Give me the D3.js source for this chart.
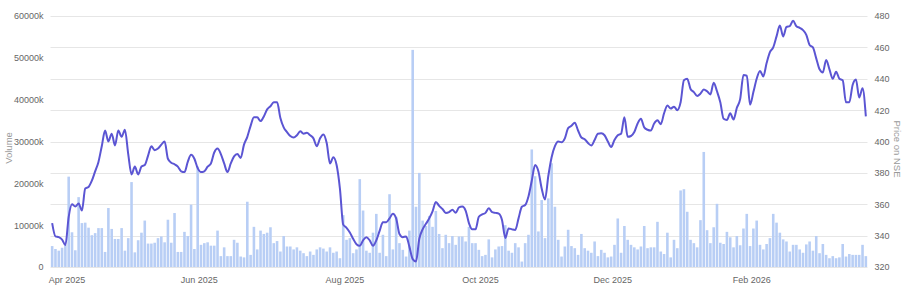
<!DOCTYPE html>
<html>
<head>
<meta charset="utf-8">
<script src="https://cdnjs.cloudflare.com/ajax/libs/d3/7.8.5/d3.min.js"></script>
<style>
body { margin: 0; background: #fff; }
text { font-family: "Liberation Sans", Arial, sans-serif; }
</style>
</head>
<body>
<div id="chart"></div>
<script>
// trading days: weekdays between these dates, minus exchange holidays
var startDate = '2025-03-24'
var endDate = '2026-03-23'
var holidays = ['2025-03-31', '2025-04-10', '2025-04-14', '2025-04-18', '2025-05-01', '2025-08-15',
	'2025-08-27', '2025-10-02', '2025-10-22', '2025-11-05', '2025-12-25', '2026-01-15', '2026-01-26', '2026-03-03']

// volume in thousands
var volume = [
	5000, 4300, 3900, 4600, 5300, 21600, 8300, 4000, 16700, 10500,
	10600, 9400, 7600, 8100, 9300, 9300, 3600, 14100, 9100, 6700,
	6700, 9300, 3900, 6900, 20300, 3500, 6400, 8200, 11100, 5600,
	5600, 5800, 6900, 7300, 5900, 11300, 5800, 12900, 3600, 3600,
	8400, 7400, 14900, 4300, 24000, 5300, 5700, 5900, 5100, 5100,
	8700, 2600, 4700, 2600, 2600, 6500, 5800, 2500, 2300, 15600,
	2900, 9600, 4200, 8700, 7900, 8200, 9500, 5700, 6200, 3700,
	7400, 4900, 4900, 4200, 4700, 3900, 3300, 2600, 3700, 2900,
	4200, 4700, 4400, 3700, 4700, 3400, 3700, 2100, 12400, 6500,
	6900, 3300, 4200, 21000, 13500, 3900, 3400, 8200, 12700, 3400,
	7700, 2600, 17400, 4200, 12000, 5700, 4100, 2500, 8700, 51900,
	14400, 22500, 11100, 9800, 12200, 9600, 13400, 7900, 4500, 7700,
	5700, 7400, 5300, 7300, 7300, 6100, 9600, 5700, 5700, 4100,
	2600, 2900, 6600, 2300, 4200, 4900, 5000, 10000, 3900, 3400,
	5700, 4700, 1300, 5700, 7700, 28100, 21700, 8500, 16000, 6900,
	16400, 24800, 14400, 6500, 2500, 4900, 8900, 5000, 4500, 2900,
	7900, 4500, 3900, 3400, 6100, 2600, 4100, 3400, 2300, 2500,
	5300, 11600, 3400, 9800, 6500, 5300, 4700, 4200, 4900, 9800,
	4500, 4700, 4700, 10800, 3700, 3100, 8200, 2300, 6500, 4500,
	18300, 18600, 13200, 6500, 5700, 4700, 11200, 27500, 8800, 5700,
	9500, 15100, 5800, 5500, 8400, 7100, 4700, 7400, 5200, 9200,
	12700, 5000, 9200, 11100, 5300, 4200, 5500, 6900, 12700, 10600,
	8200, 6600, 6100, 3700, 5300, 5300, 4200, 3400, 5400, 6100,
	3900, 7400, 3300, 5500, 2900, 2100, 2600, 2100, 2300, 5500,
	2500, 3100, 2900, 2900, 2900, 5300, 2600
]

var price = [
	348, 339.5, 339, 337.5, 334, 352, 360, 358.5, 360.5, 356,
	370, 371, 375, 381, 387, 397, 407, 400, 405, 397.5,
	407, 403, 407.5, 392, 379, 384, 379, 384, 385, 391,
	397, 394.5, 395.5, 398, 400, 389, 386.5, 385.5, 384, 381,
	380.5, 387, 391.5, 389, 383, 380.5, 381, 384, 386, 393,
	395.5, 392, 386, 380.5, 386, 390.5, 392, 389.5, 398, 403,
	410, 415.5, 415.5, 413, 416, 420.5, 422.5, 425, 425, 415,
	409, 406, 403.5, 402.5, 404, 406.5, 405, 405.5, 404, 402,
	397, 402, 404.5, 399, 386, 390, 385, 370, 347, 345,
	342, 338, 334.5, 333.5, 337, 339, 337, 333.5, 337, 343,
	348.5, 348.5, 351, 354, 351, 341, 339, 339.5, 333, 325,
	323.5, 338, 344, 347.5, 351, 355.5, 361.5, 359, 357, 354.5,
	355, 356.5, 354.6, 358, 358.5, 356, 348, 344, 344, 352,
	353.5, 354.5, 357.4, 355, 354.5, 354, 350, 338.5, 344.6, 344,
	343.6, 351, 358.4, 359.5, 365, 375, 385, 381, 370, 363,
	378, 390, 397, 400, 399.5, 402, 408.5, 410, 412, 407,
	402.5, 401.5, 399, 397.5, 401, 405, 405.2, 404, 400, 396.5,
	401, 404, 405, 415.4, 403, 403.5, 406, 411.5, 414.5, 409,
	407.5, 407, 411.5, 413.5, 411, 418, 423, 421, 422.2, 420,
	425, 439, 440, 433.5, 431.5, 429, 430.5, 433.2, 432, 430,
	437.5, 432, 425, 414.5, 413.7, 418, 414, 421.5, 427, 442.4,
	442, 423.5, 431.5, 440, 445, 441.5, 450, 457, 460, 467,
	474, 467, 473, 473.5, 477, 473.5, 472.5, 471, 468, 461.5,
	460, 453, 446, 444, 452, 446, 440, 444.5, 440, 439,
	425, 425, 436, 439.5, 428, 434, 416
]

var volumeTicks = [0, 10000, 20000, 30000, 40000, 50000, 60000]
var priceTicks = [320, 340, 360, 380, 400, 420, 440, 460, 480]
var monthTicks = ['2025-04', '2025-06', '2025-08', '2025-10', '2025-12', '2026-02']

var width = 902, height = 292
var margin = {top: 16, right: 34.5, bottom: 25, left: 50.5}

var fmt = d3.timeFormat('%Y-%m-%d')
var parse = d3.timeParse('%Y-%m-%d')
var dates = d3.timeDay.range(parse(startDate), d3.timeDay.offset(parse(endDate), 1))
	.filter(function(d) { return d.getDay() !== 0 && d.getDay() !== 6 && holidays.indexOf(fmt(d)) < 0 })
	.map(fmt)

var rows = dates.map(function(d, i) { return {date: d, volume: volume[i], price: price[i]} })

var svg = d3.select('#chart').append('svg')
	.attr('width', width).attr('height', height)

var x = d3.scaleBand().domain(dates)
	.range([margin.left, width - margin.right])
	.paddingInner(0.22).paddingOuter(0.11)
var yVol = d3.scaleLinear().domain([0, 60000]).range([height - margin.bottom, margin.top])
var yPrice = d3.scaleLinear().domain([320, 480]).range([height - margin.bottom, margin.top])

svg.append('g').selectAll('line').data(priceTicks).enter().append('line')
	.attr('x1', margin.left).attr('x2', width - margin.right)
	.attr('y1', function(d) { return Math.round(yPrice(d)) + 0.5 })
	.attr('y2', function(d) { return Math.round(yPrice(d)) + 0.5 })
	.attr('stroke', '#e6e6e6')

svg.append('g').selectAll('rect').data(rows).enter().append('rect')
	.attr('x', function(d) { return x(d.date) })
	.attr('width', x.bandwidth())
	.attr('y', function(d) { return yVol(d.volume) })
	.attr('height', function(d) { return yVol(0) - yVol(d.volume) })
	.attr('fill', '#b8cef5')

var line = d3.line()
	.x(function(d) { return x(d.date) + x.bandwidth() / 2 })
	.y(function(d) { return yPrice(d.price) })
	.curve(d3.curveMonotoneX)

svg.append('path').datum(rows)
	.attr('d', line)
	.attr('fill', 'none')
	.attr('stroke', '#5b55d3')
	.attr('stroke-width', 2)

var leftAxis = svg.append('g').attr('transform', 'translate(' + margin.left + ',0)')
	.call(d3.axisLeft(yVol).tickValues(volumeTicks).tickSize(0).tickPadding(7)
		.tickFormat(function(d) { return d === 0 ? '0' : d + 'k' }))
var rightAxis = svg.append('g').attr('transform', 'translate(' + (width - margin.right) + ',0)')
	.call(d3.axisRight(yPrice).tickValues(priceTicks).tickSize(0).tickPadding(7))

var tickDates = monthTicks.map(function(m) { return dates.find(function(d) { return d.slice(0, 7) === m }) })
var bottomAxis = svg.append('g')
	.attr('transform', 'translate(' + (-x.step() / 2) + ',' + (height - margin.bottom) + ')')
	.call(d3.axisBottom(x).tickValues(tickDates).tickSize(0).tickPadding(9.5)
		.tickFormat(function(d) { return d3.timeFormat('%b %Y')(parse(d)) }))

;[leftAxis, rightAxis, bottomAxis].forEach(function(g) {
	g.select('.domain').remove()
	g.selectAll('text').attr('fill', '#666').style('font-size', '9px')
})

svg.append('text').text('Volume')
	.attr('transform', 'translate(11.5,148) rotate(-90)')
	.attr('text-anchor', 'middle').attr('fill', '#999').style('font-size', '9.5px')

svg.append('text').text('Price on NSE')
	.attr('transform', 'translate(893.5,149) rotate(90)')
	.attr('text-anchor', 'middle').attr('fill', '#999').style('font-size', '9.5px')
</script>
</body>
</html>
